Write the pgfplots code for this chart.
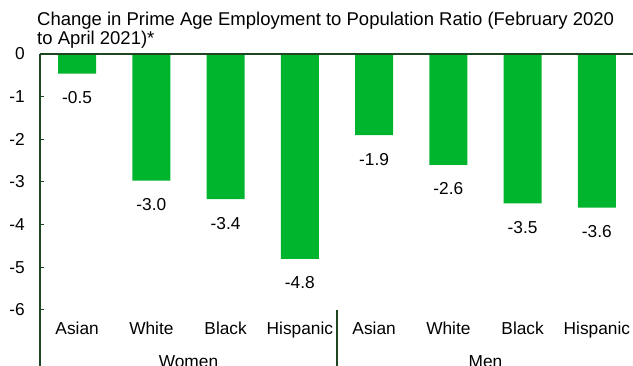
\documentclass[border=0pt]{standalone}
\usepackage{fontspec}
\setmainfont{Liberation Sans}
\usepackage{pgfplots}
\pgfplotsset{compat=1.18}
\definecolor{barg}{RGB}{0,181,46}
\definecolor{axg}{RGB}{30,70,32}
\begin{document}
\fontsize{17.3pt}{20pt}\selectfont
\begin{tikzpicture}[x=1pt,y=1pt]
\useasboundingbox (0,0) rectangle (633,366);
\node[anchor=base west, inner sep=0pt, align=left, font=\fontsize{18.5pt}{19pt}\selectfont] at (37,321)
  {Change in Prime Age Employment to Population Ratio (February 2020\\to April 2021)*};
\begin{axis}[at={(40pt,56pt)}, anchor=south west, scale only axis,
  width=594pt, height=256pt,
  xmin=-0.5, xmax=7.5, ymin=-6, ymax=0,
  ybar, bar width=38pt,
  axis line style={draw=none},
  xtick={0,1,2,3,4,5,6,7},
  xticklabels={Asian,White,Black,Hispanic,Asian,White,Black,Hispanic},
  x tick style={draw=none},
  xticklabel style={anchor=base, inner sep=0pt, yshift=-25pt},
  ytick={0,-1,-2,-3,-4,-5,-6},
  yticklabels={0,-1,-2,-3,-4,-5,-6},
  ytick pos=left, tick align=inside,
  y tick style={axg, line width=1pt},
  major tick length=4pt,
  yticklabel style={anchor=east, inner sep=0pt, xshift=-15pt},
  ticklabel style={font=\fontsize{17.3pt}{20pt}\selectfont},
  /pgf/number format/assume math mode=true,
  /pgf/number format/fixed,
  /pgf/number format/fixed zerofill,
  /pgf/number format/precision=1,
  nodes near coords,
  every node near coord/.append style={anchor=base, inner sep=0pt, yshift=-30pt, font=\fontsize{17.3pt}{20pt}\selectfont, black},
  clip=false,
]
\addplot[fill=barg, draw=none] coordinates {(0,-0.46) (1,-2.97) (2,-3.4) (3,-4.8) (4,-1.9) (5,-2.6) (6,-3.5) (7,-3.6)};
\draw[axg, line width=1.6pt] (rel axis cs:0,1) -- (rel axis cs:1,1);
\draw[axg, line width=1.6pt] (rel axis cs:0,1) -- (rel axis cs:0,0) -- ++(0pt,-70pt);
\draw[axg, line width=1.6pt] (axis cs:3.5,-6) -- ++(0pt,-70pt);
\node[anchor=base, inner sep=0pt] at (axis cs:1.5,-6) [yshift=-58pt] {Women};
\node[anchor=base, inner sep=0pt] at (axis cs:5.5,-6) [yshift=-58pt] {Men};
\end{axis}
\end{tikzpicture}
\end{document}
